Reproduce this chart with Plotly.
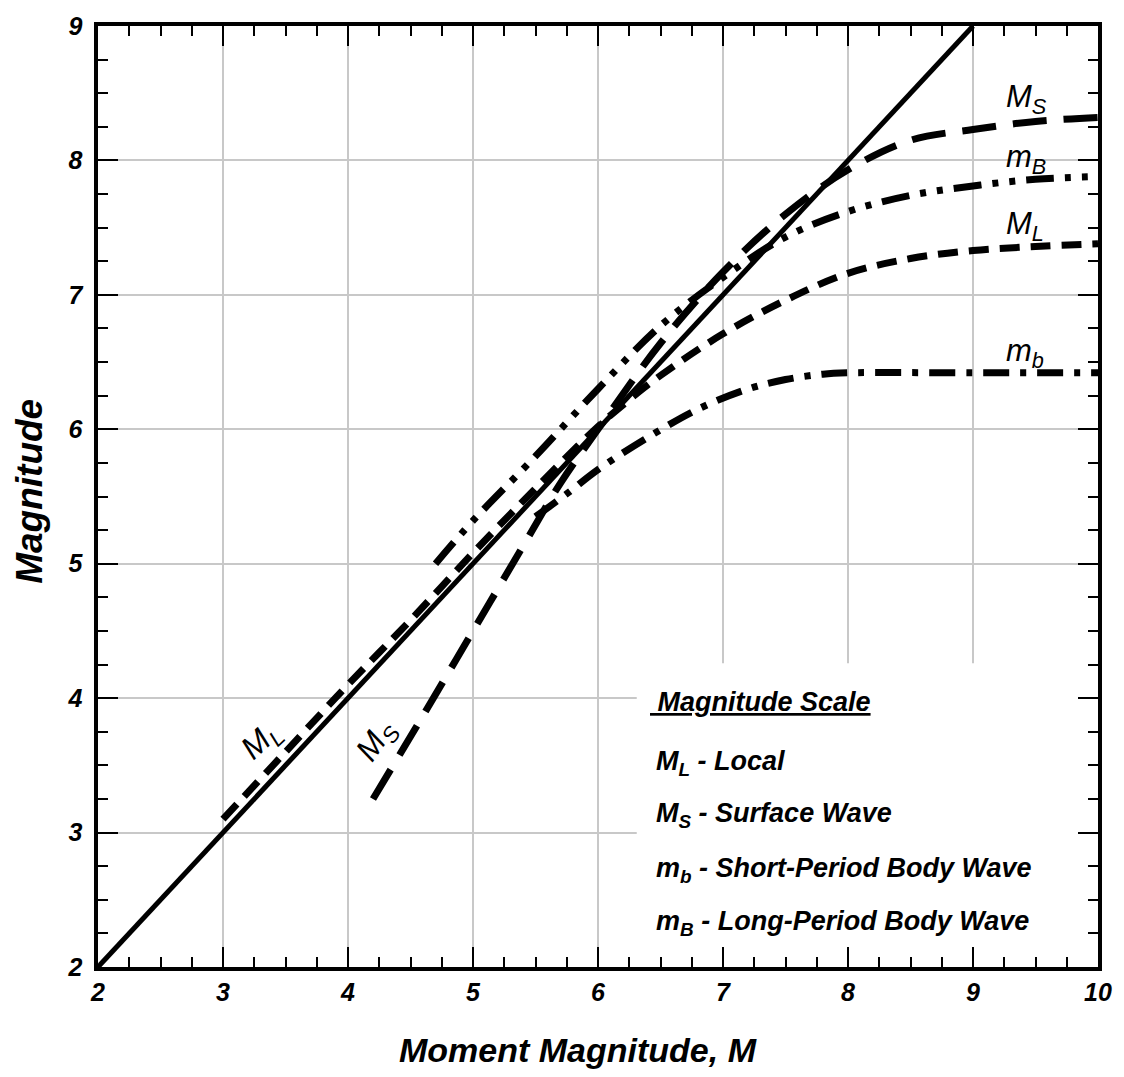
import plotly.graph_objects as go

# ---- data ----
one_to_one_x = [2, 9]
one_to_one_y = [2, 9]

ML_x = [3.0, 3.5, 4.0, 4.5, 5.0, 5.5, 6.0, 6.25, 6.5, 7.0, 7.5, 8.0, 8.5, 9.0, 9.5, 10.0]
ML_y = [3.1, 3.6, 4.1, 4.58, 5.08, 5.56, 6.02, 6.22, 6.4, 6.71, 6.96, 7.16, 7.27, 7.33, 7.36, 7.38]

MS_x = [4.2, 4.6, 5.0, 5.4, 5.7, 6.0, 6.5, 7.0, 7.5, 8.0, 8.5, 9.0, 9.5, 10.0]
MS_y = [3.25, 3.87, 4.5, 5.13, 5.6, 6.0, 6.64, 7.17, 7.6, 7.93, 8.15, 8.23, 8.29, 8.32]

mB_x = [4.7, 5.0, 5.5, 6.0, 6.5, 7.0, 7.5, 8.0, 8.5, 9.0, 9.5, 10.0]
mB_y = [5.0, 5.32, 5.8, 6.3, 6.77, 7.13, 7.43, 7.62, 7.74, 7.81, 7.86, 7.88]

mb_x = [5.5, 5.75, 6.0, 6.4, 6.8, 7.2, 7.5, 7.8, 8.0, 9.0, 10.0]
mb_y = [5.35, 5.52, 5.70, 5.94, 6.15, 6.30, 6.37, 6.41, 6.42, 6.42, 6.42]

x_ticks = [2, 3, 4, 5, 6, 7, 8, 9, 10]
y_ticks = [2, 3, 4, 5, 6, 7, 8, 9]

legend_title = "Magnitude Scale"
legend_lines = [
    "M<sub>L</sub> - Local",
    "M<sub>S</sub> - Surface Wave",
    "m<sub>b</sub> - Short-Period Body Wave",
    "m<sub>B</sub> - Long-Period Body Wave",
]

FONT = "Liberation Sans, Arial, Helvetica, sans-serif"


def bfont(size):
    return dict(family=FONT, size=size, color="black", weight="bold", style="italic")


def ifont(size):
    return dict(family=FONT, size=size, color="black", style="italic")


fig = go.Figure()

fig.add_trace(go.Scatter(x=one_to_one_x, y=one_to_one_y, mode="lines",
                         line=dict(color="black", width=5), showlegend=False))
fig.add_trace(go.Scatter(x=ML_x, y=ML_y, mode="lines", line_shape="spline",
                         line=dict(color="black", width=7, dash="20px,11px"), showlegend=False))
fig.add_trace(go.Scatter(x=MS_x, y=MS_y, mode="lines", line_shape="spline",
                         line=dict(color="black", width=7, dash="34px,17px"), showlegend=False))
fig.add_trace(go.Scatter(x=mB_x, y=mB_y, mode="lines", line_shape="spline",
                         line=dict(color="black", width=7, dash="28px,11px,6px,11px,6px,11px"),
                         showlegend=False))
fig.add_trace(go.Scatter(x=mb_x, y=mb_y, mode="lines", line_shape="spline",
                         line=dict(color="black", width=7, dash="26px,11px,6px,11px"),
                         showlegend=False))

# white box behind the legend text (covers the grid)
fig.add_shape(type="rect", xref="x", yref="y", x0=6.31, x1=10, y0=2, y1=4.26,
              fillcolor="white", line=dict(width=0), layer="between")

# legend text
fig.add_annotation(x=6.40, y=3.97, xref="x", yref="y", xanchor="left", yanchor="middle",
                   text="<u>&nbsp;" + legend_title + "</u>", showarrow=False, font=bfont(27))
for txt, yy in zip(legend_lines, [3.52, 3.13, 2.72, 2.33]):
    fig.add_annotation(x=6.45, y=yy, xref="x", yref="y", xanchor="left", yanchor="middle",
                       text=txt, showarrow=False, font=bfont(27))

# curve labels at right
for txt, yy in [("M<sub>S</sub>", 8.46), ("m<sub>B</sub>", 8.01), ("M<sub>L</sub>", 7.51), ("m<sub>b</sub>", 6.57)]:
    fig.add_annotation(x=9.25, y=yy, xref="x", yref="y", xanchor="left", yanchor="middle",
                       text=txt, showarrow=False, font=ifont(31))

# rotated curve labels
fig.add_annotation(x=3.31, y=3.68, xref="x", yref="y", text="M<sub>L</sub>", showarrow=False,
                   textangle=-43, font=ifont(32))
fig.add_annotation(x=4.23, y=3.68, xref="x", yref="y", text="M<sub>S</sub>", showarrow=False,
                   textangle=-55, font=ifont(32))

# axis titles
fig.add_annotation(x=0.48, y=-0.088, xref="paper", yref="paper", text="Moment Magnitude, M",
                   showarrow=False, font=bfont(34), xanchor="center", yanchor="middle")
fig.add_annotation(x=-0.068, y=0.505, xref="paper", yref="paper", text="Magnitude",
                   showarrow=False, font=bfont(37), textangle=-90, xanchor="center", yanchor="middle")

tick_font = dict(family=FONT, size=25, color="black")

axis_common = dict(
    showline=True, linecolor="black", linewidth=3.5, mirror="allticks",
    ticks="inside", ticklen=20, tickwidth=2, tickcolor="black",
    showgrid=True, gridcolor="#c8c8c8", gridwidth=2, zeroline=False,
    tickfont=tick_font,
    minor=dict(dtick=0.25, ticks="inside", ticklen=10, tickwidth=2, tickcolor="black", showgrid=False),
)

fig.update_xaxes(range=[2, 10], tickmode="array", tickvals=x_ticks,
                 ticktext=["<b><i>%d</i></b>" % v for v in x_ticks], **axis_common)
fig.update_yaxes(range=[2, 9], tickmode="array", tickvals=y_ticks,
                 ticktext=["<b><i>%d</i></b>&nbsp;" % v for v in y_ticks], **axis_common)

fig.update_layout(
    width=1124, height=1077,
    margin=dict(l=98, r=26, t=26, b=110, autoexpand=False),
    paper_bgcolor="white", plot_bgcolor="white",
    font=dict(family=FONT, size=25, color="black"),
    showlegend=False,
)

fig.write_html("out.html")
